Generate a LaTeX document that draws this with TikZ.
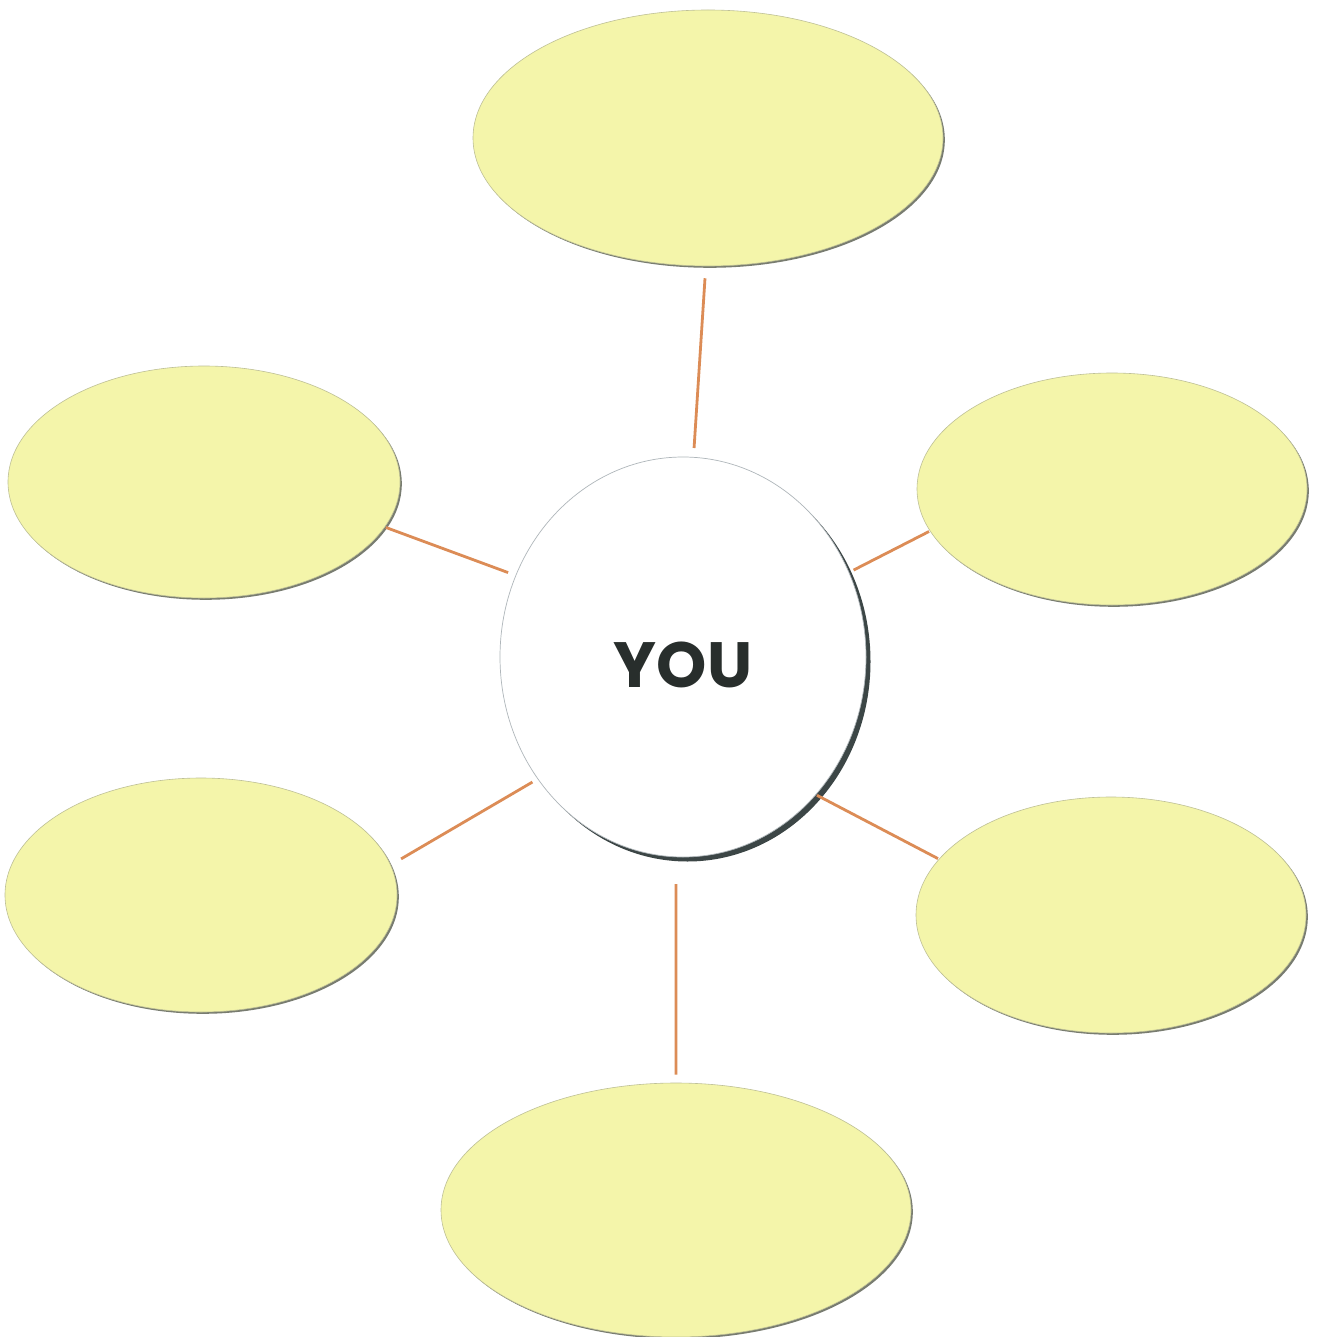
\documentclass[tikz,border=0pt]{standalone}
\usepackage{fontspec}
\newfontfamily\youfont{Poppins}
\usetikzlibrary{shapes.geometric,shadows}
\definecolor{bubfill}{RGB}{244,245,170}
\definecolor{bubedge}{RGB}{190,192,150}
\definecolor{bubshadow}{RGB}{120,124,112}
\definecolor{youshadow}{RGB}{60,70,70}
\definecolor{youedge}{RGB}{175,182,186}
\definecolor{conncol}{RGB}{220,140,86}
\definecolor{youtext}{RGB}{40,46,44}
\begin{document}
\begin{tikzpicture}[x=1pt,y=-1pt,
  bubble/.style={ellipse, inner sep=0pt, fill=bubfill, draw=bubedge, line width=0.6pt,
    drop shadow={shadow xshift=1.8pt, shadow yshift=-1.8pt, fill=bubshadow, opacity=1}},
  yoububble/.style={ellipse, inner sep=0pt, fill=white, draw=youedge, line width=0.7pt,
    drop shadow={shadow xshift=4.5pt, shadow yshift=-4.5pt, fill=youshadow, opacity=1},
    font=\youfont\bfseries\fontsize{64}{70}\selectfont, text=youtext},
  conn/.style={draw=conncol, line width=2.8pt}]
\useasboundingbox[fill=white] (0,0) rectangle (1319,1337);

\node[bubble, minimum width=470pt, minimum height=256pt] (top) at (708,138) {};
\node[bubble, minimum width=392pt, minimum height=232pt] (lu) at (204,482) {};
\node[bubble, minimum width=390pt, minimum height=232pt] (ru) at (1112,489) {};
\node[bubble, minimum width=392pt, minimum height=234pt] (ll) at (201,895) {};
\node[bubble, minimum width=390pt, minimum height=236pt] (rl) at (1111,915) {};
\node[bubble, minimum width=470pt, minimum height=254pt] (bot) at (676,1210) {};
\node[yoububble, minimum width=366pt, minimum height=400pt] (you) at (683,657) {\raisebox{-8pt}[\height][\depth]{YOU}};

\draw[conn, shorten <=12pt, shorten >=9pt] (top.-91) -- (you.87);
\draw[conn, shorten <=1pt, shorten >=8pt] (lu.-14) -- (you.154);
\draw[conn, shorten <=1pt, shorten >=5pt] (ru.193) -- (you.27);
\draw[conn, shorten <=12pt, shorten >=6pt] (ll.9) -- (you.220);
\draw[conn, shorten <=1pt, shorten >=1pt] (rl.162) -- (you.-46);
\draw[conn, shorten <=8pt, shorten >=27pt] (bot.90) -- (you.-92);
\end{tikzpicture}
\end{document}
